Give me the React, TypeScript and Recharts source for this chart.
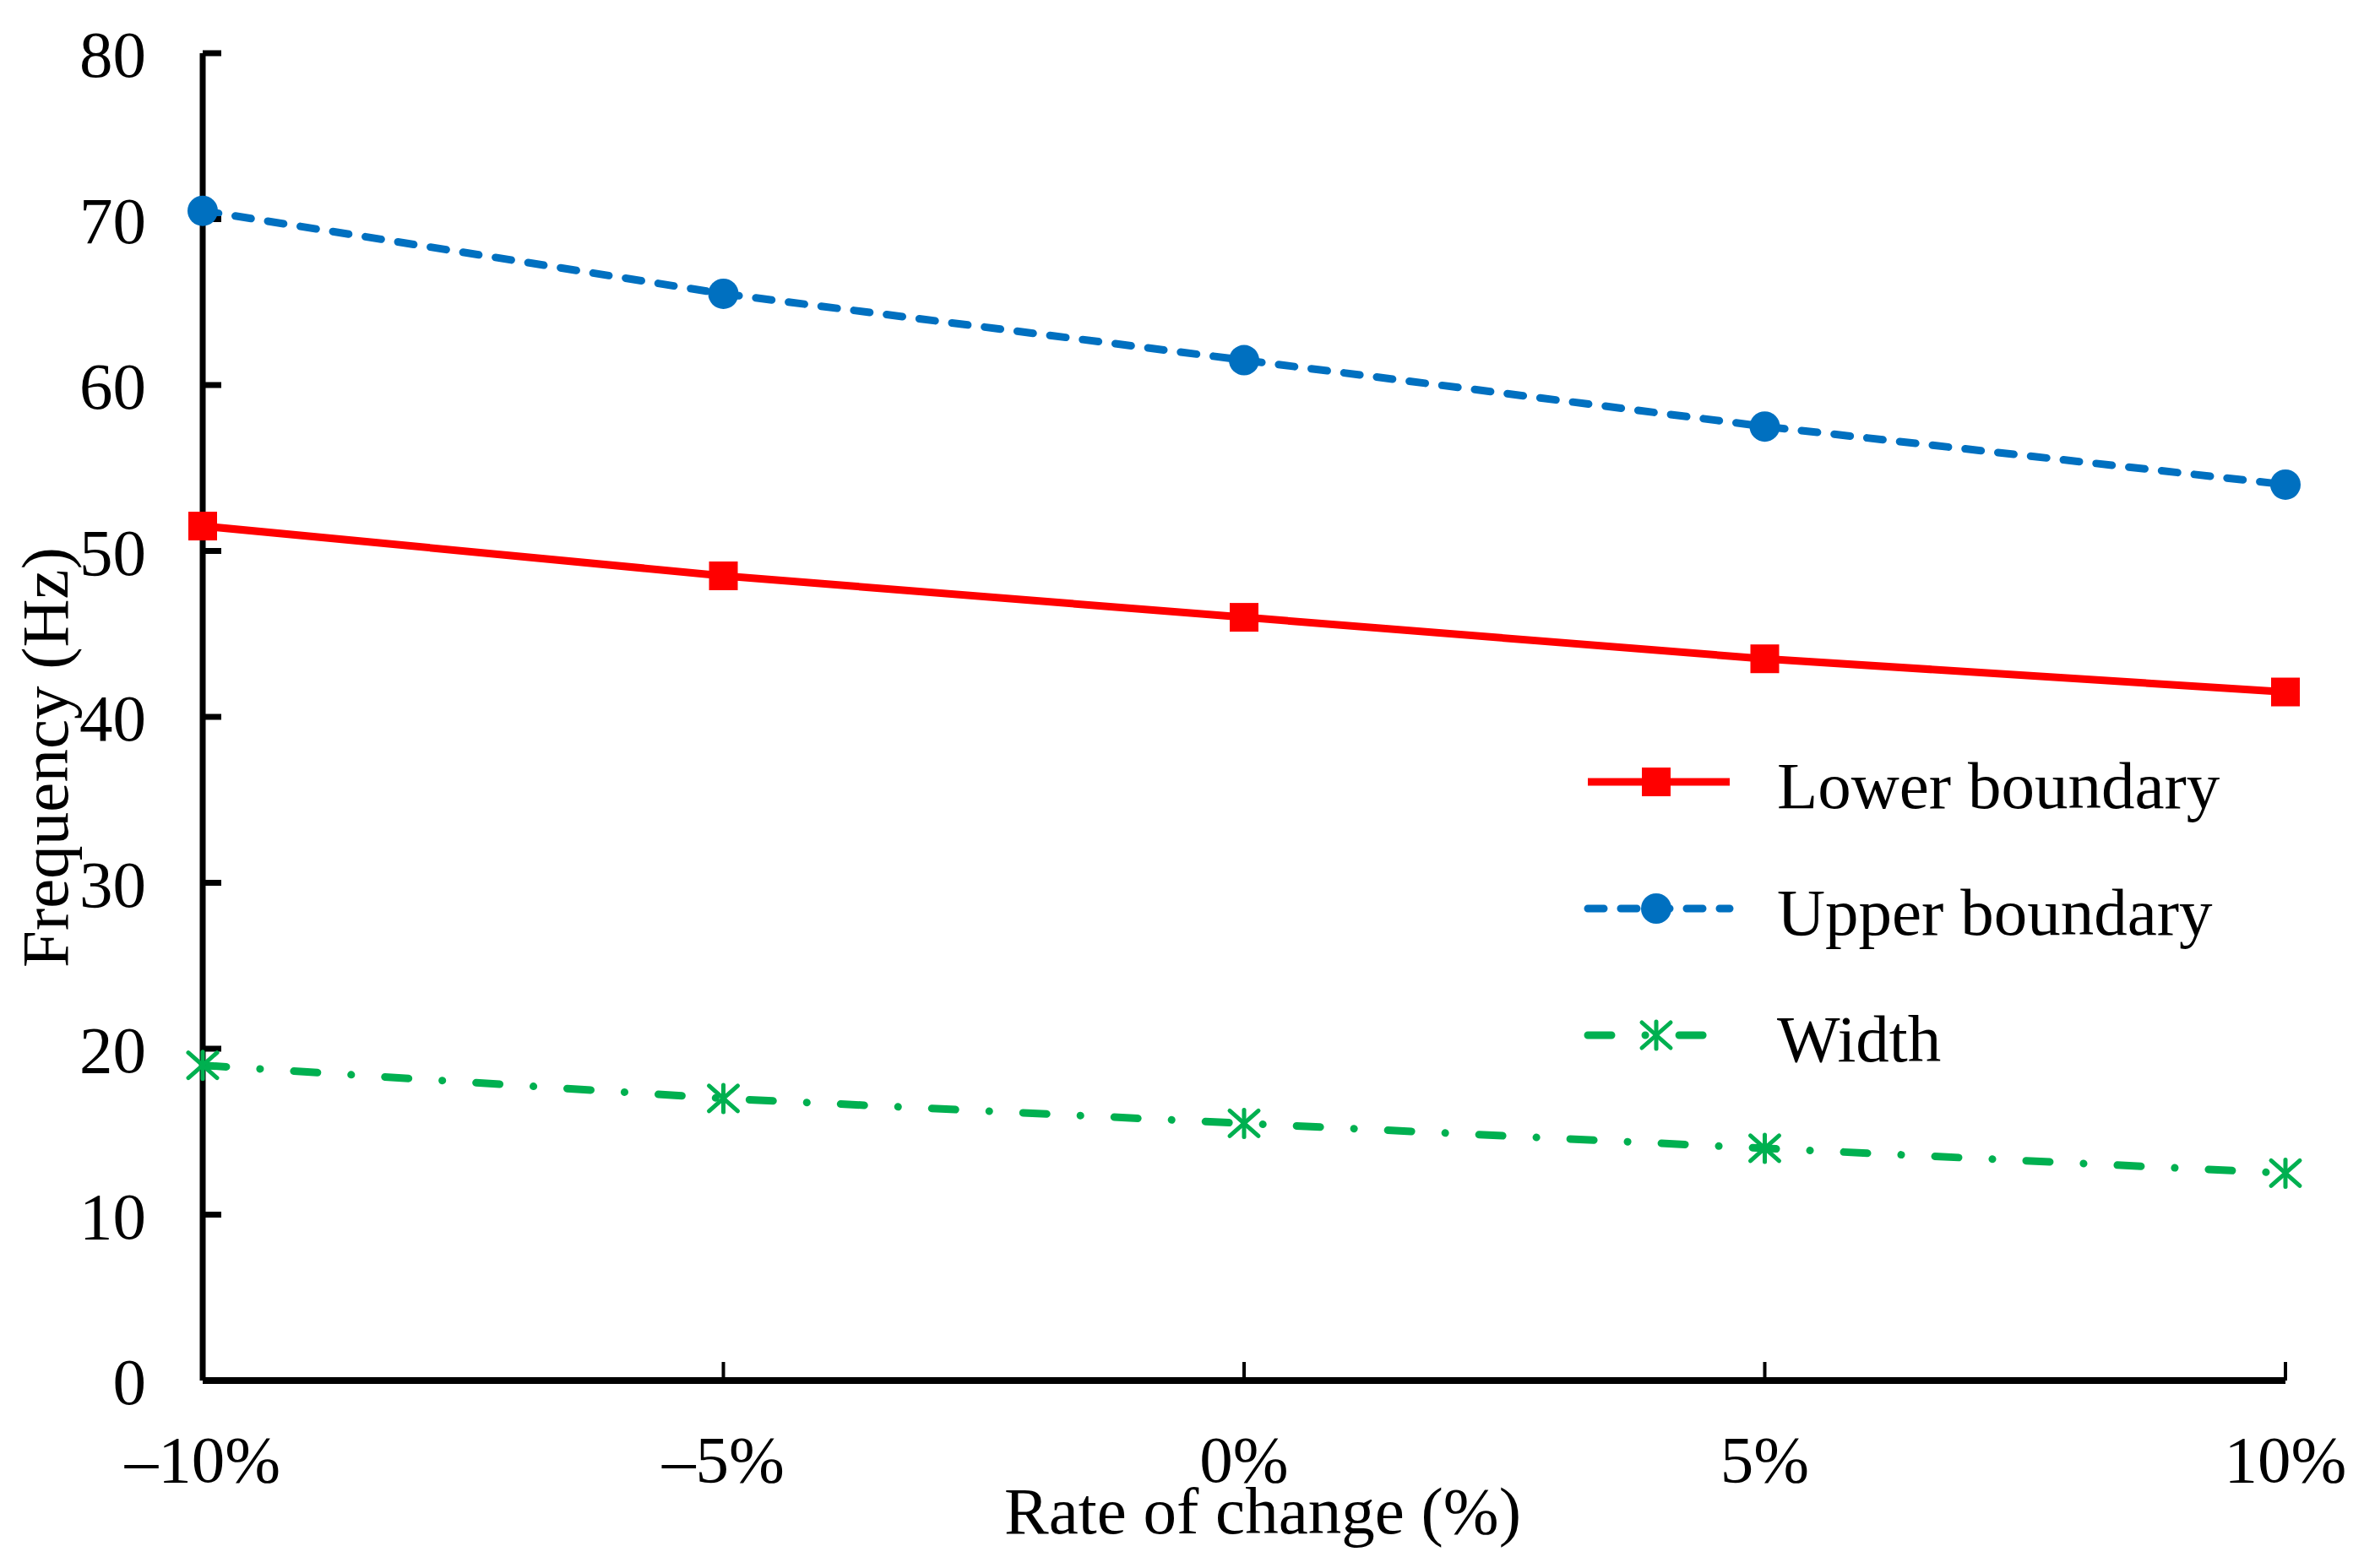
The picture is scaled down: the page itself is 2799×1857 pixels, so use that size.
import React from "react";
import { LineChart, Line, XAxis, YAxis, Legend, Label } from "recharts";

// values
const rates = [-10, -5, 0, 5, 10];
const rateLabels = ["–10%", "–5%", "0%", "5%", "10%"];
const lowerBoundary = [51.5, 48.5, 46, 43.5, 41.5];
const upperBoundary = [70.5, 65.5, 61.5, 57.5, 54];
const bandWidth = [19, 17, 15.5, 14, 12.5];
const yTicks = [0, 10, 20, 30, 40, 50, 60, 70, 80];

const FONT = "'Liberation Serif', 'Times New Roman', serif";
const FS = 79;

const data = rates.map((r, i) => ({
  rate: r,
  lower: lowerBoundary[i],
  upper: upperBoundary[i],
  width: bandWidth[i],
}));

type MarkerType = "square" | "circle" | "star";

const series: {
  key: string;
  name: string;
  color: string;
  dash?: string;
  marker: MarkerType;
}[] = [
  { key: "lower", name: "Lower boundary", color: "#FF0000", marker: "square" },
  { key: "upper", name: "Upper boundary", color: "#0070C0", dash: "19 20", marker: "circle" },
  { key: "width", name: "Width", color: "#00B050", dash: "28 40 0.1 40", marker: "star" },
];

function Marker({ type, cx, cy, color }: { type: MarkerType; cx: number; cy: number; color: string }) {
  if (cx == null || cy == null) return null;
  if (type === "square") {
    return <rect x={cx - 17} y={cy - 17} width={34} height={34} fill={color} />;
  }
  if (type === "circle") {
    return <circle cx={cx} cy={cy} r={18} fill={color} />;
  }
  return (
    <g stroke={color} strokeWidth={5} strokeLinecap="round">
      <line x1={cx} y1={cy - 16} x2={cx} y2={cy + 16} />
      <line x1={cx - 17} y1={cy - 15} x2={cx + 17} y2={cy + 15} />
      <line x1={cx + 17} y1={cy - 15} x2={cx - 17} y2={cy + 15} />
    </g>
  );
}

function LegendBox() {
  return (
    <div style={{ fontFamily: FONT, fontSize: FS, color: "#000" }}>
      {series.map((s) => (
        <div key={s.key} style={{ display: "flex", alignItems: "center", height: 150 }}>
          <svg width={180} height={60} style={{ overflow: "visible", flex: "none" }}>
            <line
              x1={4}
              x2={172}
              y1={30}
              y2={30}
              stroke={s.color}
              strokeWidth={9}
              strokeDasharray={s.dash}
              strokeLinecap={s.dash ? "round" : "butt"}
            />
            <Marker type={s.marker} cx={85} cy={30} color={s.color} />
          </svg>
          <span style={{ marginLeft: 48, paddingTop: 10, whiteSpace: "nowrap" }}>{s.name}</span>
        </div>
      ))}
    </div>
  );
}

export default function App() {
  return (
    <div style={{ width: 2783, height: 1841, background: "#fff" }}>
      <LineChart
        width={2783}
        height={1841}
        data={data}
        margin={{ top: 55, right: 85, bottom: 0, left: 0 }}
      >
        <XAxis
          dataKey="rate"
          type="number"
          domain={[-10, 10]}
          ticks={rates}
          interval={0}
          height={214}
          tickFormatter={(v: number) => rateLabels[rates.indexOf(v)]}
          axisLine={{ stroke: "#000", strokeWidth: 8 }}
          tickLine={{ stroke: "#000", strokeWidth: 4 }}
          tickSize={-22}
          tickMargin={86}
          tick={{ fontSize: FS, fill: "#000", fontFamily: FONT }}
        >
          <Label
            content={(props: any) => {
              const vb = props.viewBox || {};
              return (
                <text
                  x={vb.x + vb.width / 2 + 22}
                  y={vb.y + 155}
                  dy="0.33em"
                  textAnchor="middle"
                  fontFamily={FONT}
                  fontSize={FS}
                  fill="#000"
                >
                  Rate of change (%)
                </text>
              );
            }}
          />
        </XAxis>
        <YAxis
          type="number"
          domain={[0, 80]}
          ticks={yTicks}
          interval={0}
          width={232}
          axisLine={{ stroke: "#000", strokeWidth: 7 }}
          tickLine={{ stroke: "#000", strokeWidth: 7 }}
          tickSize={-22}
          tickMargin={89}
          tick={{ fontSize: FS, fill: "#000", fontFamily: FONT }}
        >
          <Label
            content={(props: any) => {
              const vb = props.viewBox || {};
              const x = 46;
              const y = vb.y + vb.height / 2 + 48;
              return (
                <text
                  x={x}
                  y={y}
                  dy="0.33em"
                  textAnchor="middle"
                  transform={`rotate(-90, ${x}, ${y})`}
                  fontFamily={FONT}
                  fontSize={FS}
                  fill="#000"
                >
                  Frequency (Hz)
                </text>
              );
            }}
          />
        </YAxis>
        <Legend
          layout="horizontal"
          verticalAlign="middle"
          align="center"
          content={() => <LegendBox />}
          wrapperStyle={{ left: 1868, top: 843, width: 850 }}
        />
        {series.map((s) => (
          <Line
            key={s.key}
            dataKey={s.key}
            name={s.name}
            type="linear"
            stroke={s.color}
            strokeWidth={9}
            strokeDasharray={s.dash}
            strokeLinecap={s.dash ? "round" : "butt"}
            isAnimationActive={false}
            activeDot={false}
            dot={(p: any) => (
              <Marker key={`${s.key}-${p.index}`} type={s.marker} cx={p.cx} cy={p.cy} color={s.color} />
            )}
          />
        ))}
      </LineChart>
    </div>
  );
}
